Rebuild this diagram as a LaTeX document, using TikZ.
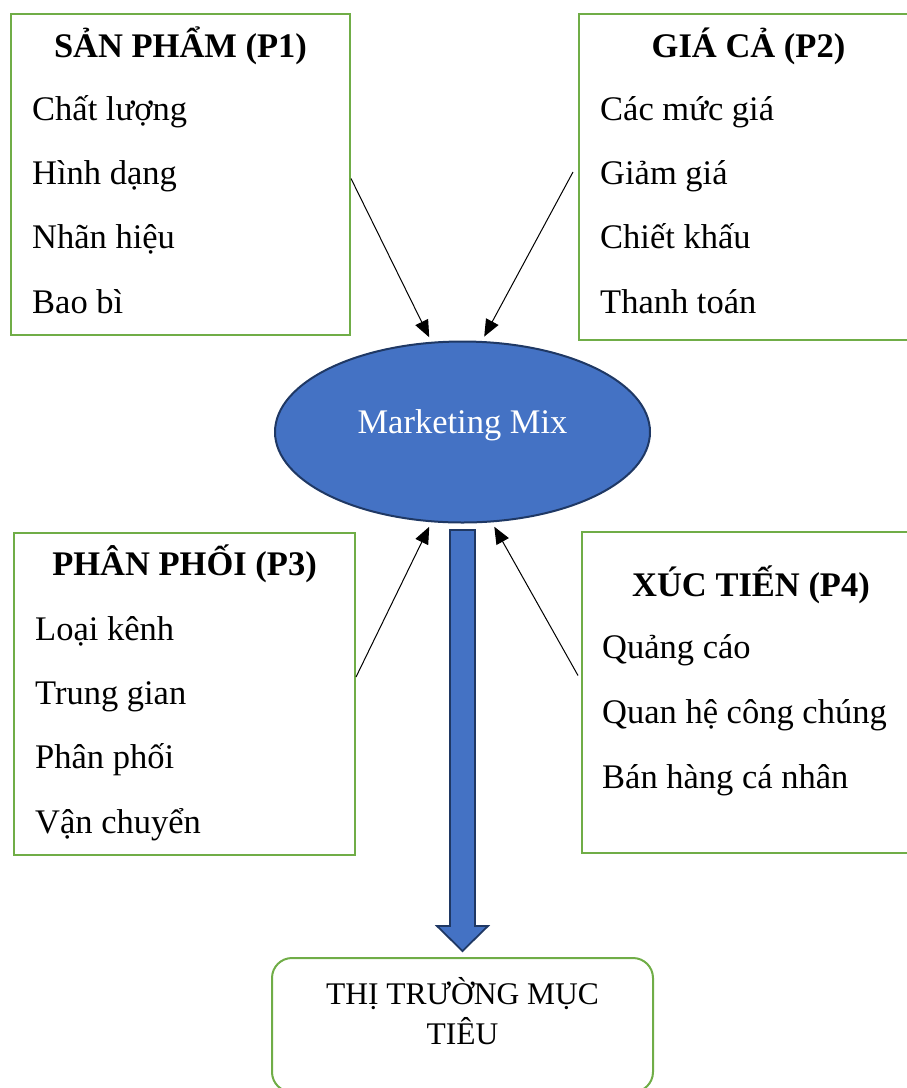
\documentclass[tikz,border=0pt]{standalone}
\usepackage{fontspec}
\setmainfont{Liberation Serif}
\usetikzlibrary{positioning,calc,shapes.geometric,arrows.meta}

\definecolor{boxgreen}{RGB}{112,173,71}
\definecolor{mixblue}{RGB}{68,114,196}
\definecolor{mixline}{RGB}{31,56,100}
\newcommand{\bigfont}{\fontsize{34.5}{41}\selectfont}
\newcommand{\tmfont}{\fontsize{31.5}{40}\selectfont}

\begin{document}
\begin{tikzpicture}[x=1pt,y=-1pt,
		pbox/.style={draw=boxgreen, line width=2pt, minimum width=339pt, minimum height=321pt, inner sep=0pt, anchor=north west},
		ptitle/.style={anchor=base, inner sep=0pt, font=\bigfont\bfseries},
		pitem/.style={anchor=base west, inner sep=0pt, font=\bigfont},
		towards/.style={-{Triangle[length=17pt,width=14pt]}, line width=1pt, shorten >=5pt},
		mixnode/.style={ellipse, draw=mixline, line width=2pt, fill=mixblue, minimum width=375pt, minimum height=181pt, inner sep=0pt},
		bigarrow/.style={draw=mixline, line width=1.8pt, fill=mixblue, line join=miter},
		tmbox/.style={draw=boxgreen, line width=2pt, rounded corners=20pt, minimum width=381pt, minimum height=134pt, inner sep=0pt},
		tmtext/.style={anchor=base, inner sep=0pt, font=\tmfont}]
	\useasboundingbox (0,0) rectangle (907,1088);
	\clip (0,0) rectangle (907,1088);

	% the four P boxes
	\node[pbox] (p1) at (10,13) {};
	\node[pbox, minimum height=326pt] (p2) at (578,13) {};
	\node[pbox, minimum width=341pt, minimum height=322pt] (p3) at (13,532) {};
	\node[pbox, minimum width=338pt] (p4) at (581,531) {};

	\node[ptitle] (p1t) at ($(p1.north)+(0,44)$) {SẢN PHẨM (P1)};
	\foreach \txt [count=\i] in {Chất lượng, Hình dạng, Nhãn hiệu, Bao bì}
		\node[pitem] (p1-\i) at ($(p1.north west)+(22,{107+64.4*(\i-1)})$) {\txt};

	\node[ptitle] (p2t) at ($(p2.north)+(0,44)$) {GIÁ CẢ (P2)};
	\foreach \txt [count=\i] in {Các mức giá, Giảm giá, Chiết khấu, Thanh toán}
		\node[pitem] (p2-\i) at ($(p2.north west)+(22,{107+64.4*(\i-1)})$) {\txt};

	\node[ptitle] (p3t) at ($(p3.north)+(0,43)$) {PHÂN PHỐI (P3)};
	\foreach \txt [count=\i] in {Loại kênh, Trung gian, Phân phối, Vận chuyển}
		\node[pitem] (p3-\i) at ($(p3.north west)+(22,{108+64.4*(\i-1)})$) {\txt};

	\node[ptitle] (p4t) at ($(p4.north)+(0,65)$) {XÚC TIẾN (P4)};
	\foreach \txt [count=\i] in {Quảng cáo, Quan hệ công chúng, Bán hàng cá nhân}
		\node[pitem] (p4-\i) at ($(p4.north west)+(21,{127+65*(\i-1)})$) {\txt};

	% centre
	\node[mixnode] (mm) at (462.5,432) {};
	\node[anchor=base, inner sep=0pt, font=\bigfont, text=white] (mmt) at ($(mm.center)+(0,1)$) {Marketing Mix};

	\draw[towards] ($(p1.east)+(0,4)$) -- (mm.109);
	\draw[towards] ($(p2.west)+(-5,-5)$) -- (mm.78);
	\draw[towards] ($(p3.east)+(0,-17)$) -- (mm.-109);
	\draw[towards] ($(p4.west)+(-3,-17)$) -- (mm.-72);

	% target market
	\node[tmbox] (tm) at (462.5,1025) {};
	\node[tmtext] (tm1) at ($(tm.north)+(0,47)$) {THỊ TRƯỜNG MỤC};
	\node[tmtext] (tm2) at ($(tm1.base)+(0,40)$) {TIÊU};

	\coordinate (tip) at ($(tm.north)+(0,-6)$);
	\draw[bigarrow] ($(mm.south)+(-12.5,6.5)$) -- ($(tip)+(-12.5,-25)$) -- ($(tip)+(-25.5,-25)$)
		-- (tip) -- ($(tip)+(25.5,-25)$) -- ($(tip)+(12.5,-25)$) -- ($(mm.south)+(12.5,6.5)$) -- cycle;
\end{tikzpicture}
\end{document}
